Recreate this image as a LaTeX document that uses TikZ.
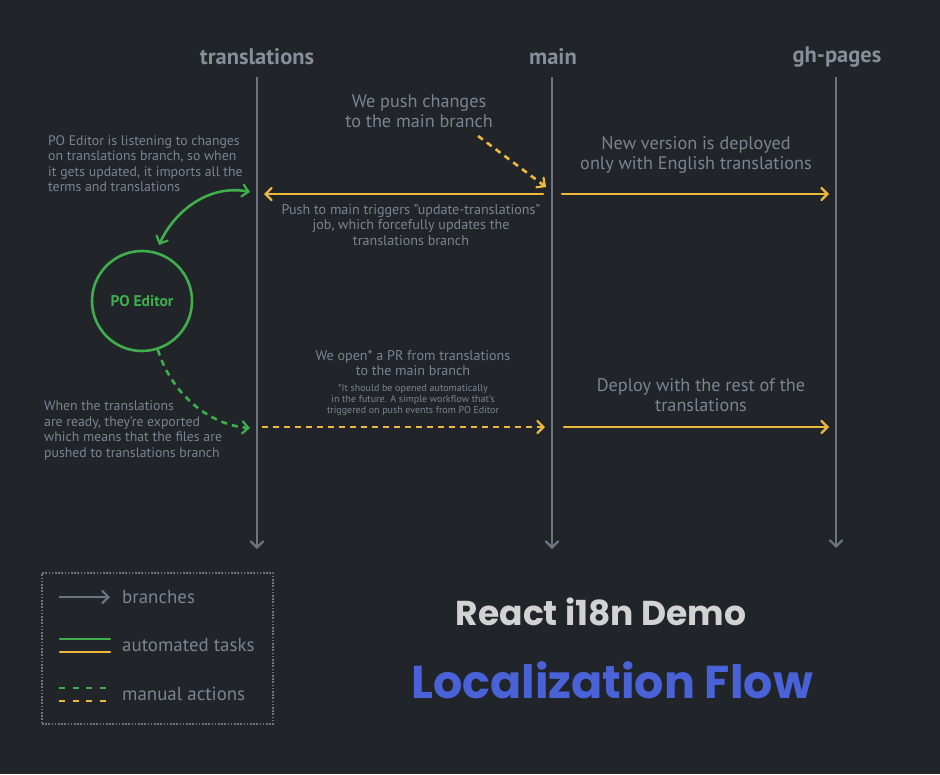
\documentclass[tikz,border=0pt]{standalone}
\usepackage{fontspec}
\setmainfont{PT Sans}
\newfontfamily\handfont{PT Sans}
\newfontfamily\titlefont{Poppins}
\usetikzlibrary{arrows.meta}
\definecolor{bg}{HTML}{212429}
\definecolor{branch}{HTML}{6C7480}
\definecolor{txt}{HTML}{7C8490}
\definecolor{hdr}{HTML}{868E99}
\definecolor{ylw}{HTML}{EDB93C}
\definecolor{grn}{HTML}{3FAE4C}
\definecolor{blu}{HTML}{4A62D8}
\definecolor{ttl}{HTML}{D2D2D2}
\tikzset{
  barbtip/.tip={Straight Barb[length=6pt,width=12pt,line width=2.2pt,line cap=round]},
  tip/.style={-barbtip},
  branchline/.style={draw=branch,line width=2pt,tip},
  auto/.style={line width=2.6pt,line cap=round},
  manual/.style={line width=2.6pt,dash pattern=on 6pt off 5pt},
  hdrtext/.style={text=hdr,font=\handfont\bfseries\fontsize{22.5}{22.5}\selectfont,inner sep=0pt},
  bigtext/.style={text=txt,font=\fontsize{18.2}{20}\selectfont,align=center,inner sep=0pt},
  midtext/.style={text=txt,font=\fontsize{14.1}{15.5}\selectfont,align=center,inner sep=0pt},
  lefttext/.style={text=txt,font=\fontsize{13.8}{15.5}\selectfont,align=left,inner sep=0pt},
  smalltext/.style={text=txt,font=\fontsize{10}{11.2}\selectfont,align=center,inner sep=0pt},
  legtext/.style={text=txt,font=\fontsize{18.9}{20}\selectfont,anchor=west,inner sep=0pt},
}
\begin{document}
\begin{tikzpicture}[x=1pt,y=-1pt]
\fill[bg] (0,0) rectangle (940,774);
\useasboundingbox (0,0) rectangle (940,774);

% headers
\node[hdrtext] (htr) at (257,57) {translations};
\node[hdrtext] (hmain) at (553,57) {main};
\node[hdrtext] (hgh) at (837,57) {gh-pages};

% branch lines
\coordinate (trTop) at (257,77);
\coordinate (trBot) at (257,549);
\coordinate (mTop) at (552,77);
\coordinate (mBot) at (552,549);
\coordinate (gTop) at (836,77);
\coordinate (gBot) at (836,548);
\draw[branchline] (trTop) -- (trBot);
\draw[branchline] (mTop) -- (mBot);
\draw[branchline] (gTop) -- (gBot);

% top texts
\node[bigtext] (push) at (419,111) {We push changes\\to the main branch};
\node[bigtext] (newver) at (696,155) {New version is deployed\\only with English translations};
\node[midtext] (trig) at (411,225) {Push to main triggers "update-translations"\\job, which forcefully updates the\\translations branch};
\node[lefttext,anchor=north west] (listen) at (48,135) {PO Editor is listening to changes\\on translations branch, so when\\it gets updated, it imports all the\\terms and translations};

% top arrows
\coordinate (pushS) at (478,136);
\coordinate (pushE) at (546,187);
\draw[ylw,manual,tip] (pushS) -- (pushE);
\coordinate (y1a) at (543,194);
\coordinate (y1b) at (264,194);
\draw[ylw,auto,tip] (y1a) -- (y1b);
\coordinate (y2a) at (562,194);
\coordinate (y2b) at (829,194);
\draw[ylw,auto,tip] (y2a) -- (y2b);

% PO Editor
\node[circle,draw=grn,line width=2.6pt,minimum size=100pt,inner sep=0pt,text=grn,font=\handfont\bfseries\fontsize{15.5}{15.5}\selectfont] (po) at (142,301) {PO Editor};
\coordinate (g1) at (250,192);
\coordinate (g1e) at (159,245);
\draw[grn,auto,barbtip-barbtip]
  (g1) .. controls (210,184) and (175,210) .. (g1e);
\coordinate (g2) at (250,428);
\draw[grn,manual,tip] (po.-72) .. controls (172,395) and (210,425) .. (g2);

% bottom texts
\node[lefttext,anchor=north west] (ready) at (44,401) {When the translations\\are ready, they're exported\\which means that the files are\\pushed to translations branch};
\node[midtext] (open) at (413,363) {We open* a PR from translations\\to the main branch};
\node[smalltext] (note) at (413,400) {*It should be opened automatically\\in the future. A simple workflow that's\\triggered on push events from PO Editor};
\node[bigtext] (deploy) at (701,395) {Deploy with the rest of the\\translations};

\coordinate (y3a) at (262,427);
\coordinate (y3b) at (545,427);
\draw[ylw,manual,tip] (y3a) -- (y3b);
\coordinate (y4a) at (564,427);
\coordinate (y4b) at (829,427);
\draw[ylw,auto,tip] (y4a) -- (y4b);

% legend
\node[draw=branch,line width=2.2pt,dash pattern=on 1.6pt off 1.6pt,minimum width=231pt,minimum height=151pt,inner sep=0pt] (legend) at (157.5,648.5) {};
\coordinate (l1a) at (59,597);
\coordinate (l1b) at (110,597);
\draw[branchline] (l1a) -- (l1b);
\node[legtext] (lb) at (122,597) {branches};
\coordinate (l2a) at (60,639);
\coordinate (l2b) at (110,639);
\coordinate (l3a) at (60,652);
\coordinate (l3b) at (110,652);
\draw[grn,auto] (l2a) -- (l2b);
\draw[ylw,auto] (l3a) -- (l3b);
\node[legtext] (la) at (122,645) {automated tasks};
\coordinate (l4a) at (59,688);
\coordinate (l4b) at (111,688);
\coordinate (l5a) at (59,701);
\coordinate (l5b) at (111,701);
\draw[grn,manual,dash pattern=on 6pt off 7.5pt] (l4a) -- (l4b);
\draw[ylw,manual,dash pattern=on 6pt off 7.5pt] (l5a) -- (l5b);
\node[legtext] (lm) at (122,694) {manual actions};

% title
\node[text=ttl,font=\titlefont\bfseries\fontsize{34.5}{34.5}\selectfont,inner sep=0pt] (t1) at (601,612) {React i18n Demo};
\node[text=blu,font=\titlefont\bfseries\fontsize{46}{46}\selectfont,inner sep=0pt] (t2) at (612,680) {Localization Flow};
\end{tikzpicture}
\end{document}
